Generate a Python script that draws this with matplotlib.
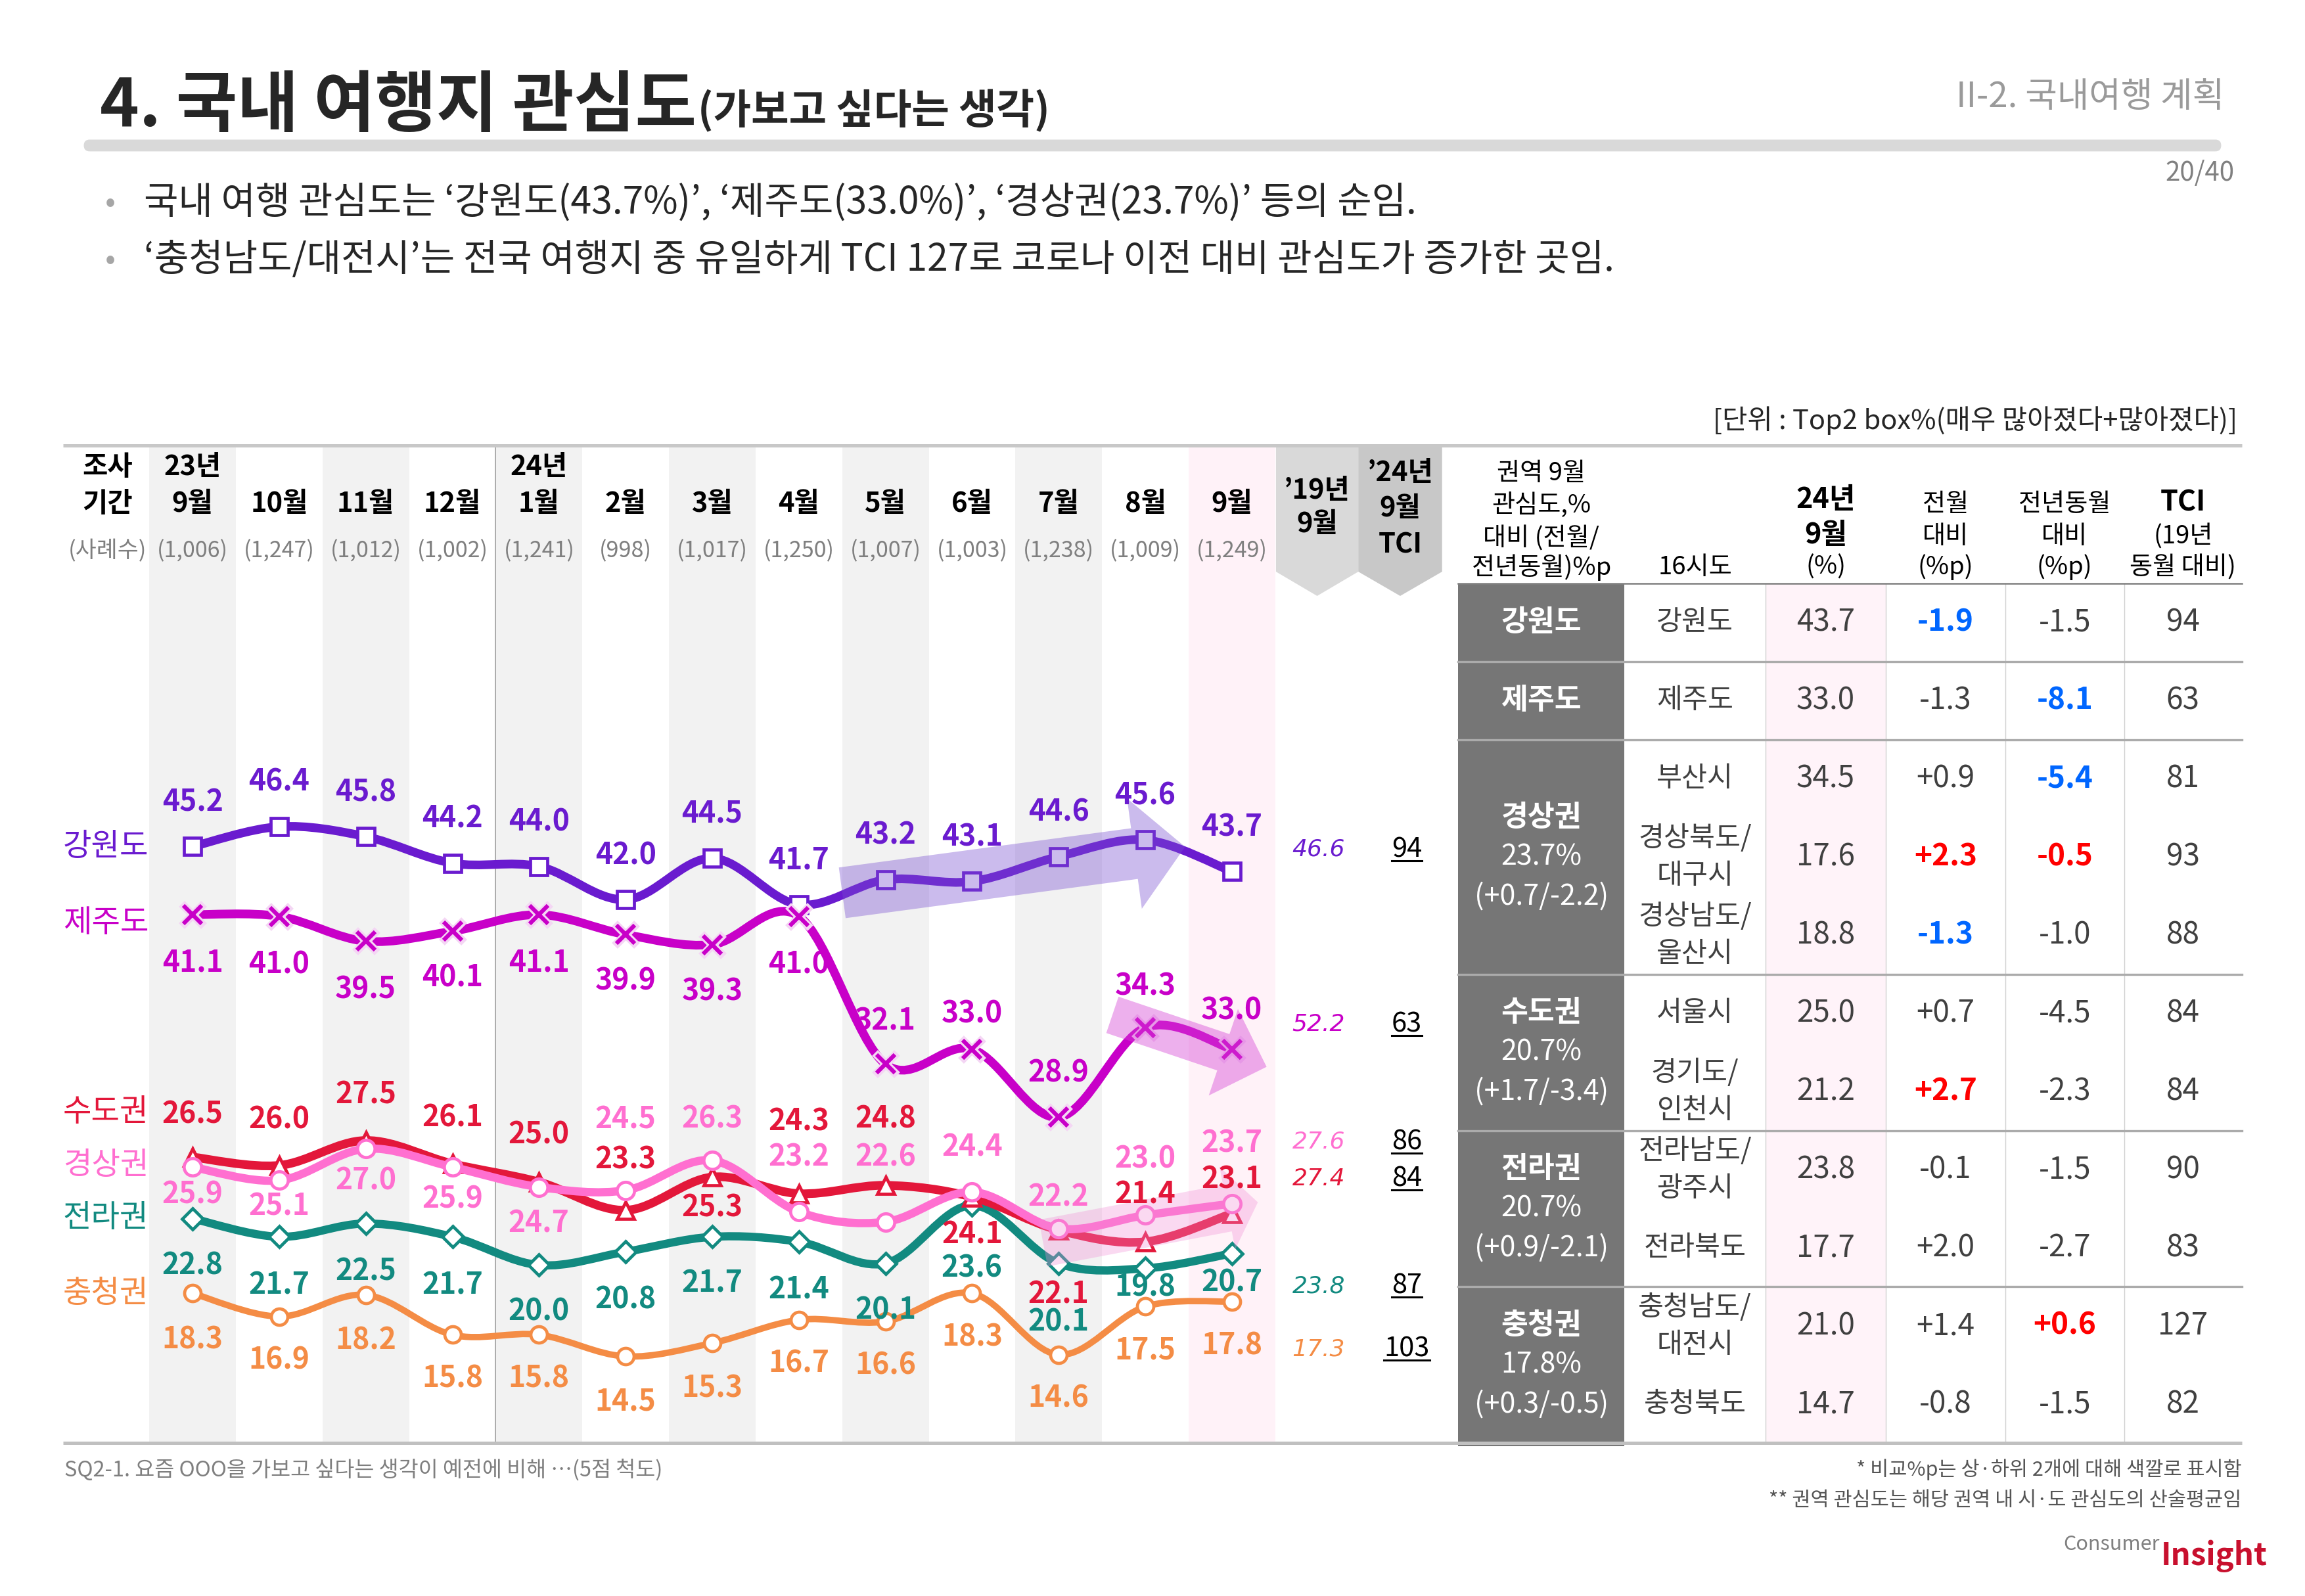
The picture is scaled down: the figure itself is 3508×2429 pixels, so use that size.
import numpy as np
import matplotlib
matplotlib.use('Agg')
import matplotlib.pyplot as plt
from matplotlib.path import Path
from matplotlib.patches import PathPatch, Rectangle, Polygon, FancyBboxPatch, FancyArrowPatch

plt.rcParams['font.family'] = ['Noto Sans CJK KR', 'DejaVu Sans']

# ---------------- data ----------------
months = ['9월', '10월', '11월', '12월', '1월', '2월', '3월', '4월', '5월', '6월', '7월', '8월', '9월']
year_tags = ['23년', '', '', '', '24년', '', '', '', '', '', '', '', '']
sample_sizes = ['(1,006)', '(1,247)', '(1,012)', '(1,002)', '(1,241)', '(998)', '(1,017)',
                '(1,250)', '(1,007)', '(1,003)', '(1,238)', '(1,009)', '(1,249)']

series_names = ['강원도', '제주도', '수도권', '경상권', '전라권', '충청권']
gangwon = [45.2, 46.4, 45.8, 44.2, 44.0, 42.0, 44.5, 41.7, 43.2, 43.1, 44.6, 45.6, 43.7]
jeju = [41.1, 41.0, 39.5, 40.1, 41.1, 39.9, 39.3, 41.0, 32.1, 33.0, 28.9, 34.3, 33.0]
sudo = [26.5, 26.0, 27.5, 26.1, 25.0, 23.3, 25.3, 24.3, 24.8, 24.1, 22.1, 21.4, 23.1]
gyeongsang = [25.9, 25.1, 27.0, 25.9, 24.7, 24.5, 26.3, 23.2, 22.6, 24.4, 22.2, 23.0, 23.7]
jeolla = [22.8, 21.7, 22.5, 21.7, 20.0, 20.8, 21.7, 21.4, 20.1, 23.6, 20.1, 19.8, 20.7]
chungcheong = [18.3, 16.9, 18.2, 15.8, 15.8, 14.5, 15.3, 16.7, 16.6, 18.3, 14.6, 17.5, 17.8]

# '19 Sep values and '24 Sep TCI (order: 강원, 제주, 경상, 수도, 전라, 충청)
side_series = ['강원도', '제주도', '경상권', '수도권', '전라권', '충청권']
sept19 = [46.6, 52.2, 27.6, 27.4, 23.8, 17.3]
tci24 = [94, 63, 86, 84, 87, 103]

# table
regions = ['강원도', '제주도', '경상권', '수도권', '전라권', '충청권']
region_avg = ['', '', '23.7%', '20.7%', '20.7%', '17.8%']
region_diff = ['', '', '(+0.7/-2.2)', '(+1.7/-3.4)', '(+0.9/-2.1)', '(+0.3/-0.5)']
region_nrows = [1, 1, 3, 2, 2, 2]
provinces = ['강원도', '제주도', '부산시', '경상북도/\n대구시', '경상남도/\n울산시', '서울시',
             '경기도/\n인천시', '전라남도/\n광주시', '전라북도', '충청남도/\n대전시', '충청북도']
sep24 = [43.7, 33.0, 34.5, 17.6, 18.8, 25.0, 21.2, 23.8, 17.7, 21.0, 14.7]
mom = [-1.9, -1.3, 0.9, 2.3, -1.3, 0.7, 2.7, -0.1, 2.0, 1.4, -0.8]
yoy = [-1.5, -8.1, -5.4, -0.5, -1.0, -4.5, -2.3, -1.5, -2.7, 0.6, -1.5]
tci = [94, 63, 81, 93, 88, 84, 84, 90, 83, 127, 82]
mom_mark = ['lo', '', '', 'hi', 'lo', '', 'hi', '', '', '', '']
yoy_mark = ['', 'lo', 'lo', 'hi', '', '', '', '', '', 'hi', '']

# ---------------- styles ----------------
colors = {'강원도': '#6A1BCF', '제주도': '#C800C8', '수도권': '#E3173A',
          '경상권': '#FF6FD0', '전라권': '#128A80', '충청권': '#F48C45'}
markers = {'강원도': 's', '제주도': 'x', '수도권': '^', '경상권': 'o', '전라권': 'D', '충청권': 'o'}
msizes = {'강원도': 19, '제주도': 20, '수도권': 19, '경상권': 19, '전라권': 16, '충청권': 18}
lwidths = {'강원도': 9.5, '제주도': 9.5, '수도권': 9.5, '경상권': 9, '전라권': 9, '충청권': 7}
# label offsets (small-image px, negative = above)
label_dy = {
    '강원도': [-30] * 13,
    '제주도': [33, 33, 33, 32, 33, 32, 32, 33, -29, -24, -30, -28, -26],
    '수도권': [-29, -31, -31, -31, -32, -34, 21, -49, -45, 26, 44, -32, -23],
    '경상권': [19, 18, 22, 22, 25, -48, -28, -37, -44, -30, -21, -38, -41],
    '전라권': [32, 33, 33, 33, 32, 33, 32, 33, 32, 43, 40, 13, 20],
    '충청권': [32, 30, 31, 30, 30, 31, 31, 30, 30, 30, 30, 30, 30],
}
legend_y = {'강원도': 576, '제주도': 628, '수도권': 757, '경상권': 793, '전라권': 829, '충청권': 880}
side_y = [578, 697, 777, 802, 875, 918]

W, H = 1568.0, 1086.0
PT = 3508 / W * 0.72  # points per small-px

fig = plt.figure(figsize=(35.08, 24.29), dpi=100)
fig.patch.set_facecolor('white')

# ---------------- chart axes ----------------
L, R, T, B = 43, 990, 303, 982
X0, DX = 131.0, 58.92
Y0, DY = 1086.8, 11.3
ax = fig.add_axes([L / W, 1 - B / H, (R - L) / W, (B - T) / H])
ax.set_facecolor('none')
ax.axis('off')
ax.set_xlim((L - X0) / DX, (R - X0) / DX)
ax.set_ylim((Y0 - B) / DY, (Y0 - T) / DY)

for i in range(0, 12, 2):
    ax.axvspan(i - 0.5, i + 0.5, color='#F2F2F2', lw=0, zorder=0)
ax.axvspan(11.5, 12.5, color='#FFF2F8', lw=0, zorder=0)
ax.axvline(3.5, color='#A6A6A6', lw=1.3, zorder=0.5)


def smooth_line(axis, xs, ys, **kw):
    xs = np.asarray(xs, float)
    ys = np.asarray(ys, float)
    n = len(xs)
    verts = [(xs[0], ys[0])]
    codes = [Path.MOVETO]
    for k in range(n - 1):
        p0 = np.array([xs[max(k - 1, 0)], ys[max(k - 1, 0)]])
        p1 = np.array([xs[k], ys[k]])
        p2 = np.array([xs[k + 1], ys[k + 1]])
        p3 = np.array([xs[min(k + 2, n - 1)], ys[min(k + 2, n - 1)]])
        c1 = p1 + (p2 - p0) / 6.0
        c2 = p2 - (p3 - p1) / 6.0
        verts += [tuple(c1), tuple(c2), tuple(p2)]
        codes += [Path.CURVE4] * 3
    axis.add_patch(PathPatch(Path(verts, codes), fill=False, capstyle='round',
                             joinstyle='round', **kw))


xs = np.arange(len(months))
series_vals = {'강원도': gangwon, '제주도': jeju, '수도권': sudo,
               '경상권': gyeongsang, '전라권': jeolla, '충청권': chungcheong}
draw_order = ['충청권', '전라권', '수도권', '경상권', '강원도', '제주도']
for zi, name in enumerate(draw_order):
    vals = series_vals[name]
    c = colors[name]
    z = 2 + zi
    smooth_line(ax, xs, vals, edgecolor=c, lw=lwidths[name], zorder=z)
    if markers[name] == 'x':
        ax.plot(xs, vals, ls='none', marker='x', ms=msizes[name] + 4, mew=9, color='#F4D6F4',
                zorder=z + 0.4)
        ax.plot(xs, vals, ls='none', marker='x', ms=msizes[name], mew=4.5, color=c, zorder=z + 0.5)
    else:
        ax.plot(xs, vals, ls='none', marker=markers[name], ms=msizes[name], mew=3.4,
                mfc='white', mec=c, zorder=z + 0.5)
    for i, v in enumerate(vals):
        ax.annotate(f'{v:.1f}', (i, v), xytext=(0, -label_dy[name][i] * PT),
                    textcoords='offset points', ha='center', va='center',
                    fontsize=32, fontweight='bold', color=c, zorder=20)

# trend arrows
arrows = [((7.48, 42.4), (11.48, 45.2), '#784ED0', 0.38, 56, 122, 56),
          ((10.6, 35.1), (12.42, 31.9), '#D543D5', 0.42, 42, 100, 50),
          ((9.8, 21.3), (12.32, 23.8), '#F18CD6', 0.33, 52, 92, 34)]
for (a, b, col, al, tw, hw, hl) in arrows:
    ax.add_patch(FancyArrowPatch(a, b, arrowstyle=f'simple,head_length={hl},head_width={hw},tail_width={tw}',
                                 mutation_scale=1, color=col, alpha=al, lw=0, zorder=15))

# ---------------- overlay axes ----------------
ov = fig.add_axes([0, 0, 1, 1], zorder=5)
ov.set_xlim(0, W)
ov.set_ylim(H, 0)
ov.axis('off')
ov.set_facecolor('none')

# title
t1 = ov.text(68, 86, '4. 국내 여행지 관심도', fontsize=73, fontweight='bold', color='#262626',
             ha='left', va='baseline')
fig.canvas.draw()
rend = fig.canvas.get_renderer()


def ext(t):
    bb = t.get_window_extent(rend)
    (x0, y0), (x1, y1) = ov.transData.inverted().transform([[bb.x0, bb.y0], [bb.x1, bb.y1]])
    return x0, x1, min(y0, y1), max(y0, y1)


tx0, tx1, _, _ = ext(t1)
ov.text(tx1 + 1, 84, '(가보고 싶다는 생각)', fontsize=45, fontweight='bold', color='#262626',
        ha='left', va='baseline')
ov.text(1513, 66, 'II-2. 국내여행 계획', fontsize=38, color='#9A9A9A', ha='right', va='center')
ov.add_patch(FancyBboxPatch((57, 95), 1454, 8, boxstyle='round,pad=0,rounding_size=4',
                            fc='#D9D9D9', ec='none'))
ov.text(1520, 118, '20/40', fontsize=29, color='#808080', ha='right', va='center')

for yb, txt in [(138, '국내 여행 관심도는 ‘강원도(43.7%)’, ‘제주도(33.0%)’, ‘경상권(23.7%)’ 등의 순임.'),
                (177, '‘충청남도/대전시’는 전국 여행지 중 유일하게 TCI 127로 코로나 이전 대비 관심도가 증가한 곳임.')]:
    ov.text(75, yb, '•', fontsize=34, color='#A6A6A6', ha='center', va='center')
    ov.text(98, yb, txt, fontsize=41, color='#262626', ha='left', va='center')

ov.text(1522, 286, '[단위 : Top2 box%(매우 많아졌다+많아졌다)]', fontsize=30, color='#262626',
        ha='right', va='center')

# frame lines
ov.plot([43, 1525], [303, 303], color='#C8C8C8', lw=3.6, solid_capstyle='butt', zorder=3)
ov.plot([43, 1525], [982, 982], color='#C0C0C0', lw=3.6, solid_capstyle='butt', zorder=3)

# chart header
ov.text(73, 318, '조사', fontsize=30, fontweight='bold', ha='center', va='center')
ov.text(73, 343, '기간', fontsize=30, fontweight='bold', ha='center', va='center')
ov.text(73, 375, '(사례수)', fontsize=25, color='#7F7F7F', ha='center', va='center')
for i in range(len(months)):
    xc = X0 + DX * i
    if year_tags[i]:
        ov.text(xc, 318, year_tags[i], fontsize=30, fontweight='bold', ha='center', va='center')
    ov.text(xc, 343, months[i], fontsize=30, fontweight='bold', ha='center', va='center')
    ov.text(xc, 375, sample_sizes[i], fontsize=24.5, color='#7F7F7F', ha='center', va='center')

# '19 / TCI header chevrons
ov.add_patch(Polygon([(868, 303), (924, 303), (924, 389), (896, 405.5), (868, 389)],
                     closed=True, fc='#D9D9D9', ec='none', zorder=1))
ov.add_patch(Polygon([(924, 303), (981, 303), (981, 389), (952.5, 405.5), (924, 389)],
                     closed=True, fc='#C8C8C8', ec='none', zorder=1))
ov.text(896, 334, '’19년', fontsize=30, fontweight='bold', ha='center', va='center', zorder=4)
ov.text(896, 357, '9월', fontsize=30, fontweight='bold', ha='center', va='center', zorder=4)
ov.text(952.5, 322, '’24년', fontsize=30, fontweight='bold', ha='center', va='center', zorder=4)
ov.text(952.5, 346, '9월', fontsize=30, fontweight='bold', ha='center', va='center', zorder=4)
ov.text(952.5, 371, 'TCI', fontsize=30, fontweight='bold', ha='center', va='center', zorder=4)

# legend labels
for name in series_names:
    ov.text(72, legend_y[name], name, fontsize=34, color=colors[name], ha='center', va='center')

# '19 values and TCI
tci_texts = []
for k, name in enumerate(side_series):
    ov.text(897, side_y[k], f'{sept19[k]:.1f}', fontsize=26, style='italic', family='DejaVu Sans',
            color=colors[name], ha='center', va='center')
    tt = ov.text(957, side_y[k], f'{tci24[k]}', fontsize=30, color='black', ha='center', va='center')
    tci_texts.append(tt)

# ---------------- table ----------------
cx = [992, 1105, 1201, 1283, 1364, 1445, 1525]
ctr = [(cx[j] + cx[j + 1]) / 2 for j in range(6)]
HT, RH = 397, (982 - 397) / 11.0

ov.add_patch(Rectangle((cx[2], HT), cx[3] - cx[2], 982 - HT, fc='#FFF3F9', ec='none', zorder=1))
ov.add_patch(Rectangle((cx[0], HT), cx[1] - cx[0], 982 - HT + 2, fc='#767676', ec='none', zorder=1))
for xv in cx[2:6]:
    ov.plot([xv, xv], [HT, 982], color='#D0D0D0', lw=1.0, zorder=2)
ov.plot([cx[0], cx[6]], [HT, HT], color='#808080', lw=1.8, zorder=3)


def lines(x, ys, txts, **kw):
    for yy, tt in zip(ys, txts):
        ov.text(x, yy, tt, ha='center', va='center', **kw)


lines(ctr[0], [322, 344, 366, 386], ['권역 9월', '관심도,%', '대비 (전월/', '전년동월)%p'], fontsize=27.5)
lines(ctr[1], [386], ['16시도'], fontsize=27.5)
lines(ctr[2], [340, 364], ['24년', '9월'], fontsize=31, fontweight='bold')
lines(ctr[2], [386], ['(%)'], fontsize=27.5)
lines(ctr[3], [343, 365, 386], ['전월', '대비', '(%p)'], fontsize=27.5)
lines(ctr[4], [343, 365, 386], ['전년동월', '대비', '(%p)'], fontsize=27.5)
lines(ctr[5], [342], ['TCI'], fontsize=31, fontweight='bold')
lines(ctr[5], [365, 386], ['(19년', '동월 대비)'], fontsize=27.5)

row = 0
for g, name in enumerate(regions):
    n = region_nrows[g]
    top, bot = HT + RH * row, HT + RH * (row + n)
    mid = (top + bot) / 2
    if region_avg[g]:
        ov.text(ctr[0], mid - 27, name, fontsize=32, fontweight='bold', color='white', ha='center', va='center')
        ov.text(ctr[0], mid, region_avg[g], fontsize=31, color='white', ha='center', va='center')
        ov.text(ctr[0], mid + 27, region_diff[g], fontsize=31, color='white', ha='center', va='center')
    else:
        ov.text(ctr[0], mid, name, fontsize=32, fontweight='bold', color='white', ha='center', va='center')
    if g > 0:
        ov.plot([cx[0], cx[6]], [top, top], color='#ABABAB', lw=2.4, zorder=3)
    row += n


def fmt_signed(v):
    return f'{v:+.1f}' if v != 0 else '0.0'


hl_col = {'hi': '#FF0000', 'lo': '#0066FF'}
for r in range(len(provinces)):
    yc = HT + RH * (r + 0.5)
    plines = provinces[r].split('\n')
    if len(plines) == 1:
        ov.text(ctr[1], yc, plines[0], fontsize=30.5, color='#404040', ha='center', va='center')
    else:
        ov.text(ctr[1], yc - 12.5, plines[0], fontsize=30.5, color='#404040', ha='center', va='center')
        ov.text(ctr[1], yc + 13, plines[1], fontsize=30.5, color='#404040', ha='center', va='center')
    ov.text(ctr[2], yc, f'{sep24[r]:.1f}', fontsize=33, color='#404040', ha='center', va='center')
    for j, (vals, mk) in enumerate([(mom, mom_mark), (yoy, yoy_mark)]):
        m = mk[r]
        ov.text(ctr[3 + j], yc, fmt_signed(vals[r]), fontsize=33,
                color=hl_col.get(m, '#404040'), fontweight='bold' if m else 'normal',
                ha='center', va='center')
    ov.text(ctr[5], yc, f'{tci[r]}', fontsize=33, color='#404040', ha='center', va='center')

# footers
ov.text(44, 1000, 'SQ2-1. 요즘 OOO을 가보고 싶다는 생각이 예전에 비해 …(5점 척도)', fontsize=23.5,
        color='#7F7F7F', ha='left', va='center')
ov.text(1525, 1000, '* 비교%p는 상·하위 2개에 대해 색깔로 표시함', fontsize=22, color='#555555',
        ha='right', va='center')
ov.text(1525, 1021, '** 권역 관심도는 해당 권역 내 시·도 관심도의 산술평균임', fontsize=22, color='#555555',
        ha='right', va='center')
ov.text(1469, 1051, 'Consumer', fontsize=22, color='#808080', ha='right', va='center')
ov.text(1470, 1059, 'Insight', fontsize=34, fontweight='bold', color='#C8102E', ha='left', va='center')

# underline TCI numbers
fig.canvas.draw()
rend = fig.canvas.get_renderer()
for tt in tci_texts:
    x0, x1, y0, y1 = ext(tt)
    ov.plot([x0, x1], [y1 - 1.5, y1 - 1.5], color='black', lw=2.2)

fig.savefig('out.png', dpi=100, facecolor='white')
